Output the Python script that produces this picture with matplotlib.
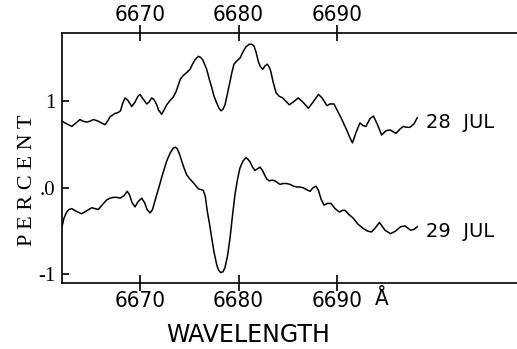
import matplotlib
matplotlib.use("Agg")
import matplotlib.pyplot as plt

# spectra (wavelength in Angstrom, percent)
wave_28 = [6662.08, 6662.39, 6662.74, 6663.07, 6663.50, 6663.91, 6664.21, 6664.59,
           6664.92, 6665.26, 6665.53, 6665.77, 6666.09, 6666.45, 6666.70, 6666.95,
           6667.46, 6667.77, 6668.02, 6668.22, 6668.48, 6668.78, 6669.16, 6669.49,
           6669.80, 6670.00, 6670.30, 6670.68, 6670.91, 6671.19, 6671.42, 6671.70,
           6671.88, 6672.20, 6672.44, 6672.71, 6673.05, 6673.38, 6673.65, 6673.89,
           6674.11, 6674.40, 6674.72, 6675.08, 6675.33, 6675.58, 6675.92, 6676.14,
           6676.37, 6676.55, 6676.77, 6677.00, 6677.28, 6677.51, 6677.79, 6678.02,
           6678.22, 6678.43, 6678.63, 6678.88, 6679.14, 6679.34, 6679.54, 6679.85,
           6680.15, 6680.49, 6680.76, 6681.10, 6681.34, 6681.57, 6681.78, 6682.01,
           6682.23, 6682.46, 6682.69, 6682.92, 6683.10, 6683.27, 6683.50, 6683.81,
           6684.11, 6684.49, 6684.82, 6685.16, 6685.53, 6686.07, 6686.55, 6687.09,
           6687.56, 6688.12, 6688.48, 6688.98, 6689.29, 6689.69, 6690.00, 6690.41,
           6690.98, 6691.27, 6691.57, 6691.93, 6692.33, 6692.64, 6692.94, 6693.35,
           6693.70, 6694.11, 6694.54, 6694.97, 6695.38, 6695.68, 6695.99, 6696.40,
           6696.73, 6697.06, 6697.41, 6697.82, 6698.15]
pct_28 = [0.77, 0.75, 0.73, 0.71, 0.75, 0.79, 0.77, 0.76,
          0.77, 0.79, 0.78, 0.77, 0.75, 0.73, 0.77, 0.82,
          0.86, 0.87, 0.89, 0.97, 1.04, 1.01, 0.94, 0.99,
          1.06, 1.08, 1.03, 0.97, 0.99, 1.04, 1.02, 0.96,
          0.90, 0.85, 0.90, 0.96, 1.01, 1.05, 1.11, 1.19,
          1.26, 1.30, 1.33, 1.37, 1.43, 1.48, 1.52, 1.51,
          1.48, 1.43, 1.37, 1.27, 1.16, 1.06, 0.98, 0.92,
          0.89, 0.91, 0.96, 1.09, 1.23, 1.34, 1.43, 1.47,
          1.50, 1.58, 1.63, 1.66, 1.66, 1.64, 1.57, 1.46,
          1.40, 1.37, 1.41, 1.43, 1.40, 1.35, 1.23, 1.10,
          1.06, 1.04, 1.00, 0.96, 0.99, 1.04, 0.99, 0.92,
          0.99, 1.08, 1.04, 0.95, 0.97, 0.97, 0.90, 0.81,
          0.67, 0.59, 0.52, 0.64, 0.75, 0.72, 0.71, 0.80,
          0.83, 0.73, 0.61, 0.66, 0.67, 0.65, 0.63, 0.68,
          0.71, 0.70, 0.70, 0.74, 0.81]

wave_29 = [6662.08, 6662.28, 6662.56, 6662.79, 6663.07, 6663.50, 6664.08, 6664.52,
           6665.10, 6665.43, 6665.77, 6666.14, 6666.62, 6666.95, 6667.29, 6667.67,
           6667.97, 6668.38, 6668.71, 6668.93, 6669.19, 6669.49, 6669.80, 6670.17,
           6670.46, 6670.71, 6671.02, 6671.27, 6671.52, 6671.83, 6672.20, 6672.44,
           6672.71, 6673.05, 6673.38, 6673.60, 6673.79, 6674.01, 6674.23, 6674.47,
           6674.74, 6675.08, 6675.41, 6675.69, 6675.92, 6676.19, 6676.43, 6676.63,
           6676.83, 6677.06, 6677.28, 6677.51, 6677.79, 6677.97, 6678.19, 6678.43,
           6678.63, 6678.88, 6679.14, 6679.39, 6679.64, 6679.90, 6680.15, 6680.46,
           6680.76, 6680.96, 6681.17, 6681.42, 6681.67, 6681.93, 6682.18, 6682.44,
           6682.69, 6682.89, 6683.13, 6683.40, 6683.71, 6683.96, 6684.21, 6684.52,
           6684.89, 6685.23, 6685.58, 6685.91, 6686.24, 6686.58, 6686.90, 6687.26,
           6687.56, 6687.87, 6688.12, 6688.38, 6688.68, 6689.03, 6689.39, 6689.80,
           6690.25, 6690.56, 6690.81, 6691.22, 6691.65, 6692.13, 6692.67, 6693.10,
           6693.50, 6693.91, 6694.31, 6694.87, 6695.43, 6695.94, 6696.45, 6696.90,
           6697.48, 6697.82, 6698.15]
pct_29 = [-0.45, -0.35, -0.28, -0.25, -0.24, -0.27, -0.30, -0.27,
          -0.23, -0.24, -0.25, -0.20, -0.14, -0.12, -0.11, -0.11,
          -0.12, -0.09, -0.04, -0.08, -0.17, -0.22, -0.16, -0.12,
          -0.17, -0.25, -0.29, -0.25, -0.15, -0.03, 0.12, 0.21,
          0.31, 0.40, 0.46, 0.47, 0.45, 0.39, 0.31, 0.23,
          0.15, 0.10, 0.06, 0.02, -0.01, -0.02, -0.03, -0.10,
          -0.27, -0.42, -0.58, -0.74, -0.89, -0.95, -0.98, -0.97,
          -0.92, -0.79, -0.58, -0.32, -0.08, 0.10, 0.23, 0.31,
          0.35, 0.33, 0.30, 0.24, 0.20, 0.22, 0.24, 0.20,
          0.14, 0.10, 0.08, 0.09, 0.08, 0.06, 0.04, 0.05,
          0.05, 0.04, 0.02, 0.01, 0.01, 0.00, -0.02, -0.04,
          0.00, 0.02, -0.03, -0.13, -0.20, -0.18, -0.18, -0.24,
          -0.28, -0.26, -0.26, -0.31, -0.35, -0.42, -0.47, -0.50,
          -0.51, -0.46, -0.40, -0.49, -0.53, -0.50, -0.45, -0.44,
          -0.49, -0.48, -0.45]

x_ticks = [6670, 6680, 6690]
y_ticks = [1, 0, -1]
y_tick_labels = ["1", ".0", "-1"]

cond = dict(family="DejaVu Sans", stretch="condensed")

fig = plt.figure(figsize=(5.17, 3.49), dpi=100)
ax = fig.add_axes([62 / 517, 66 / 349, 1 - 62 / 517 + 0.01, 250 / 349])

ax.plot(wave_28, pct_28, color="black", lw=1.1, solid_joinstyle="round")
ax.plot(wave_29, pct_29, color="black", lw=1.1, solid_joinstyle="round")

ax.set_xlim(6662.08, 6708.8)
ax.set_ylim(-1.10, 1.79)

ax.spines["right"].set_visible(False)
for s in ["left", "top", "bottom"]:
    ax.spines[s].set_linewidth(1.2)

# x ticks on both bottom and top, crossing the frame
ax.set_xticks(x_ticks)
ax.set_xticklabels([str(t) for t in x_ticks], fontsize=16, **cond)
ax.tick_params(axis="x", direction="inout", length=12, width=1.2, top=True,
               labeltop=True, pad=0)
for t in ax.xaxis.get_major_ticks():
    t.label2.set_fontsize(16)
    t.label2.set_fontstretch("condensed")

ax.set_yticks(y_ticks)
ax.set_yticklabels(y_tick_labels, family="Liberation Serif", fontsize=15)
ax.tick_params(axis="y", direction="in", length=5, width=1.2, pad=5)

ax.set_xlabel("WAVELENGTH", fontsize=17)
ax.xaxis.set_label_coords(0.404, -0.16)
ax.set_ylabel("P E R C E N T", family="Liberation Serif", fontsize=16)
ax.yaxis.set_label_coords(-0.054, 0.41)

ax.text(6699.0, 0.76, "28  JUL", fontsize=14, ha="left", va="center")
ax.text(6699.0, -0.50, "29  JUL", fontsize=14, ha="left", va="center")
ax.text(6694.5, -1.29, "Å", fontsize=16, ha="center", va="center", clip_on=False,
        **cond)

fig.savefig("out.png", dpi=100)
